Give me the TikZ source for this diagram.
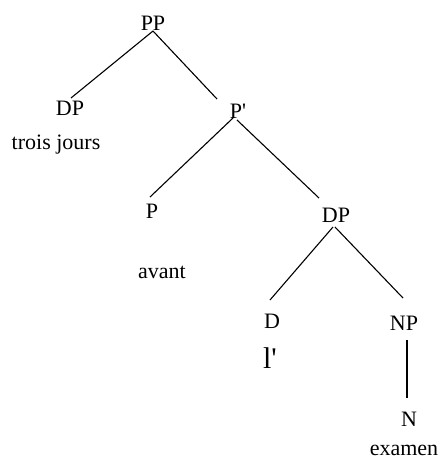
\documentclass[tikz,border=0pt]{standalone}
\usepackage{fontspec}
\setmainfont{Liberation Serif}
\newfontfamily\plainserif{Liberation Serif}
\begin{document}
\begin{tikzpicture}[x=1pt,y=-1pt,
  lbl/.style={anchor=base,inner sep=0pt,font=\plainserif\fontsize{22}{24}\selectfont},
  big/.style={anchor=base,inner sep=0pt,font=\plainserif\fontsize{30}{32}\selectfont},
  edge/.style={line width=1.1pt}]
\useasboundingbox (0,0) rectangle (442,459);
% labels
\node[lbl] (PP) at (153,30) {PP};
\node[lbl] (DPa) at (70,115) {DP};
\node[lbl] (trois) at (56,149) {trois jours};
\node[lbl] (Pbar) at (238,118) {P'};
\node[lbl] (P) at (152,218) {P};
\node[lbl] (avant) at (162,278) {avant};
\node[lbl] (DPb) at (336,222) {DP};
\node[lbl] (D) at (272,328) {D};
\node[big] (l) at (270,368) {l'};
\node[lbl] (NP) at (404,330) {NP};
\node[lbl] (N) at (409,426) {N};
\node[lbl] (examen) at (404,455) {examen};
% connector end points
\coordinate (PPs) at (153,31);
\coordinate (DPat) at (71,98);
\coordinate (Pbart) at (217,99);
\coordinate (Pbarl) at (233,118);
\coordinate (Pbarr) at (237,120);
\coordinate (Pt) at (150,197);
\coordinate (DPbt) at (319,198);
\coordinate (DPbl) at (333,227);
\coordinate (DPbr) at (335,227);
\coordinate (Dt) at (270,300);
\coordinate (NPt) at (403,298);
\coordinate (NPs) at (407,340);
\coordinate (Nt) at (407,398);
% connectors
\draw[edge] (PPs) -- (DPat);
\draw[edge] (PPs) -- (Pbart);
\draw[edge] (Pbarl) -- (Pt);
\draw[edge] (Pbarr) -- (DPbt);
\draw[edge] (DPbl) -- (Dt);
\draw[edge] (DPbr) -- (NPt);
\draw[edge] (NPs) -- (Nt);
\end{tikzpicture}
\end{document}
